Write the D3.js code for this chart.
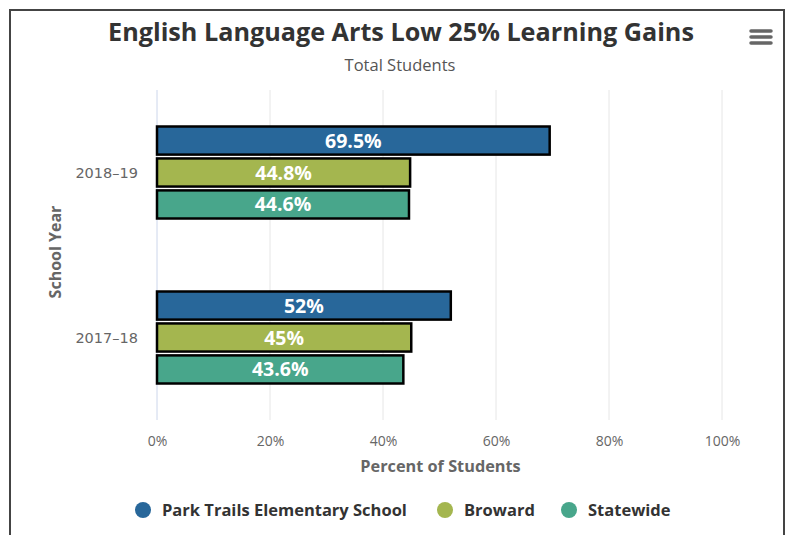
<!DOCTYPE html>
<html>
<head>
<meta charset="utf-8">
<script src="https://cdn.jsdelivr.net/npm/d3@7"></script>
<style>
  html, body { margin: 0; padding: 0; background: #fff; }
  svg { display: block; font-family: "Open Sans", "Lato", sans-serif; }
</style>
</head>
<body>
<svg id="chart" width="789" height="535"></svg>
<script>
// Chart data
const years = ["2018-19", "2017-18"];
const seriesNames = ["Park Trails Elementary School", "Broward", "Statewide"];
const seriesColors = ["#28679a", "#a4b64f", "#48a68b"];
const parkTrails = [69.5, 52];
const broward = [44.8, 45];
const statewide = [44.6, 43.6];
const xTicks = [0, 20, 40, 60, 80, 100];

const seriesValues = [parkTrails, broward, statewide];

const svg = d3.select("#chart");
const W = 789, H = 535;
const FONT = "'Open Sans', Lato, sans-serif";
const FONT_WIDE = "'DejaVu Sans', Verdana, sans-serif";

// Outer frame
svg.append("path")
  .attr("d", `M10,${H} L10,10 L784,10 L784,${H}`)
  .attr("fill", "none").attr("stroke", "#444").attr("stroke-width", 2);

// Title block
svg.append("text").attr("x", 401).attr("y", 41).attr("text-anchor", "middle")
  .attr("font-size", 25.2).attr("font-weight", 700).attr("fill", "#333")
  .text("English Language Arts Low 25% Learning Gains");
svg.append("text").attr("x", 400).attr("y", 71).attr("text-anchor", "middle")
  .attr("font-size", 16.5).attr("fill", "#555")
  .text("Total Students");

// Menu icon
[31, 37, 43].forEach(y => {
  svg.append("line").attr("x1", 751).attr("x2", 771).attr("y1", y).attr("y2", y)
    .attr("stroke", "#666").attr("stroke-width", 3.5).attr("stroke-linecap", "round");
});

// Scales
const plot = { left: 157, right: 722, top: 90, bottom: 420 };
const x = d3.scaleLinear().domain([0, 100]).range([plot.left, plot.right]);
const y = d3.scaleBand().domain(years).range([plot.top, plot.bottom]);
const inner = d3.scaleBand().domain(d3.range(seriesNames.length))
  .range([-46, 46]).paddingInner(0.12);

// Grid lines
svg.append("g").selectAll("line").data(xTicks).join("line")
  .attr("x1", d => x(d)).attr("x2", d => x(d))
  .attr("y1", plot.top).attr("y2", plot.bottom)
  .attr("stroke", d => d === 0 ? "#ccd6eb" : "#e6e6e6").attr("stroke-width", 1);

// X axis labels
const xAxis = d3.axisBottom(x).tickValues(xTicks).tickFormat(d => d + "%").tickSize(0).tickPadding(0);
const gx = svg.append("g").attr("transform", `translate(0,${plot.bottom + 26})`).call(xAxis);
gx.select(".domain").remove();
gx.selectAll("text").attr("font-size", 14).attr("fill", "#666")
  .attr("font-family", FONT).attr("dy", 0);

// Y axis labels
const yAxis = d3.axisLeft(y).tickSize(0).tickPadding(0);
const gy = svg.append("g").attr("transform", `translate(${plot.left - 19},0)`).call(yAxis);
gy.select(".domain").remove();
gy.selectAll("text").attr("font-size", 14.5).attr("fill", "#666")
  .attr("font-family", FONT_WIDE).attr("dy", "0.35em")
  .text(d => d.replace("-", "\u2013"));

// Axis titles
svg.append("text").attr("x", (plot.left + plot.right) / 2 + 1).attr("y", 472)
  .attr("text-anchor", "middle").attr("font-size", 16.3).attr("font-weight", 700)
  .attr("fill", "#666").text("Percent of Students");
svg.append("text")
  .attr("transform", `translate(61,252) rotate(-90)`)
  .attr("text-anchor", "middle").attr("font-size", 16).attr("font-weight", 700)
  .attr("fill", "#666").text("School Year");

// Bars
const rows = [];
years.forEach((yr, i) => {
  seriesValues.forEach((vals, s) => rows.push({ year: yr, s, v: vals[i] }));
});
const bars = svg.append("g").selectAll("g").data(rows).join("g")
  .attr("transform", d => `translate(0,${y(d.year) + y.bandwidth() / 2 + inner(d.s)})`);
bars.append("rect")
  .attr("x", x(0)).attr("y", 0)
  .attr("width", d => x(d.v) - x(0)).attr("height", inner.bandwidth())
  .attr("fill", d => seriesColors[d.s]).attr("stroke", "#000").attr("stroke-width", 2.5);
bars.append("text")
  .attr("x", d => (x(0) + x(d.v)) / 2).attr("y", inner.bandwidth() / 2)
  .attr("dy", "0.36em").attr("text-anchor", "middle")
  .attr("font-size", 19.5).attr("font-weight", 700).attr("fill", "#fff")
  .text(d => d.v + "%");

// Legend
const legendX = [143, 445, 569];
const lg = svg.append("g").selectAll("g").data(seriesNames).join("g")
  .attr("transform", (d, i) => `translate(${legendX[i]},510)`);
lg.append("circle").attr("r", 8).attr("fill", (d, i) => seriesColors[i]);
lg.append("text").attr("x", 19).attr("dy", "0.36em")
  .attr("font-size", 16.5).attr("font-weight", 700).attr("fill", "#333")
  .text(d => d);
</script>
</body>
</html>
